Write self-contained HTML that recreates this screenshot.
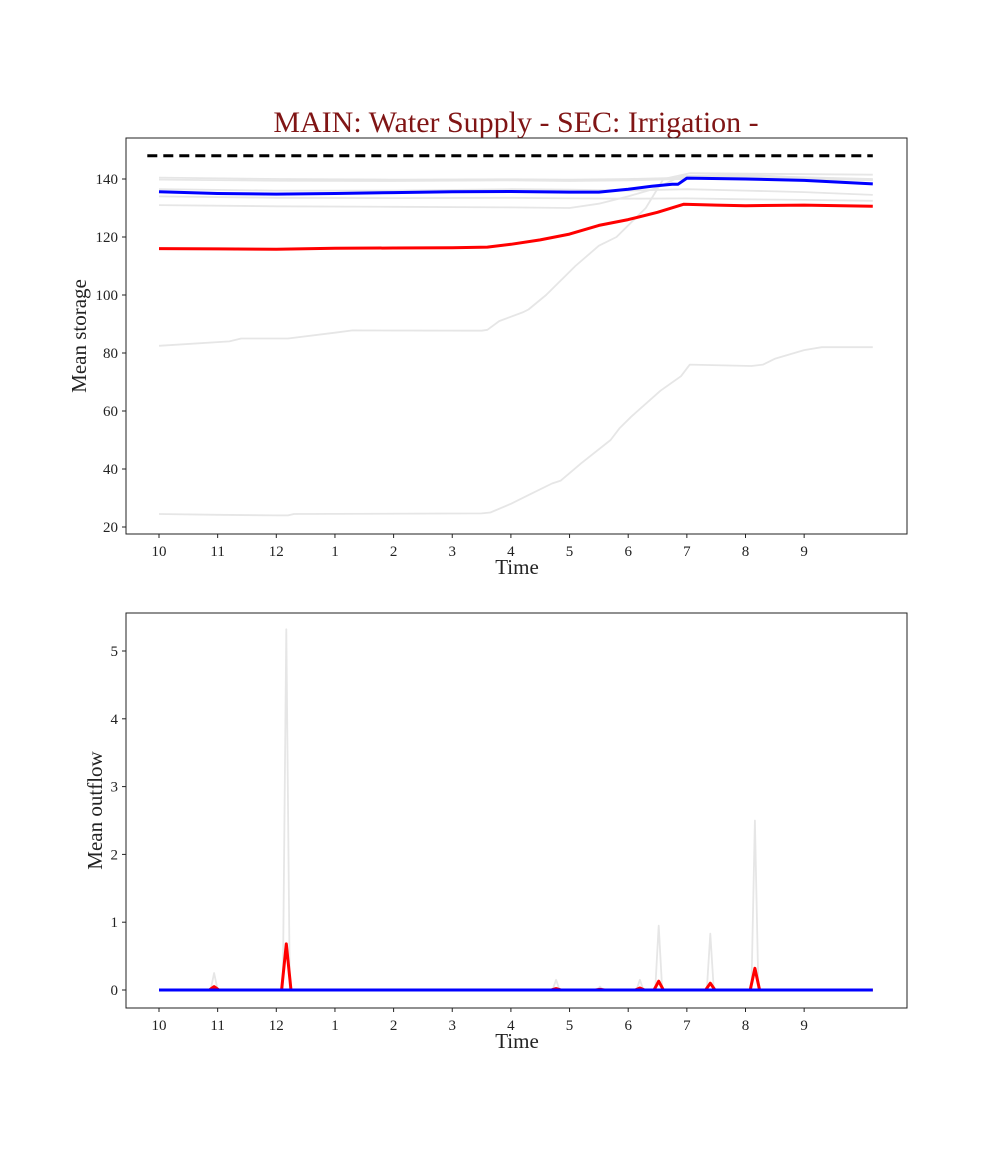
<!DOCTYPE html>
<html><head><meta charset="utf-8"><style>
body{margin:0;background:#fff;width:1008px;height:1152px;overflow:hidden}
svg text{font-family:"Liberation Serif",serif;fill:#222}
</style></head><body>
<svg id="chart" width="1008" height="1152" xmlns="http://www.w3.org/2000/svg">
<text x="516" y="132" text-anchor="middle" font-size="30" style="fill:#801515">MAIN: Water Supply - SEC: Irrigation -</text>
<g id="topPanel"></g>
<g id="botPanel"></g>
</svg>
<script>
const monthLabels = ["10","11","12","1","2","3","4","5","6","7","8","9"];
const storageTicks = [20,40,60,80,100,120,140];
const outflowTicks = [0,1,2,3,4,5];
const capacity = 148;
const redT = [0,1,2,3,4,5,5.6,6,6.5,7,7.5,8,8.5,8.95,9.5,10,11,12.17];
const redV = [116,115.9,115.8,116.1,116.2,116.3,116.5,117.5,119,121,124,126,128.5,131.3,131,130.8,131,130.6];
const blueT = [0,1,2,3,4,5,6,7,7.5,8,8.4,8.75,8.85,9.0,10,11,11.5,12.17];
const blueV = [135.6,135,134.8,135,135.3,135.6,135.7,135.5,135.5,136.5,137.5,138.2,138.2,140.3,140,139.5,139,138.3];
const gray1T = [0,2,4,6,7,8,9,10,11,12.17];
const gray1V = [140.5,140,139.8,139.9,139.8,140,140.5,141,140.6,140];
const gray2T = [0,2,4,6,7,8,9,10,11,12.17];
const gray2V = [139.8,139.4,139.3,139.5,139.3,139.5,140,140.5,140,139.6];
const gray3T = [0,2,4,6,7,7.5,8,8.5,8.9,10,11,12.17];
const gray3V = [131,130.6,130.4,130.2,130,131.5,134,137,141,141.5,140.5,139.8];
const gray4T = [0,2,4,6,7,8,9,10,11,12.17];
const gray4V = [134,133.5,133.4,133.5,133.3,133.2,133.3,133,132.8,132.5];
const gray5T = [0,2,4,6,7,8,9,10,11,12.17];
const gray5V = [136.5,136,136,136.5,136.3,136,136.5,136,135.5,134.5];
const gray6T = [0,1.2,1.4,2.2,3,3.3,5.5,5.6,5.8,6.2,6.3,6.6,7.1,7.5,7.8,8.3,8.6,9.05,12.17];
const gray6V = [82.5,84,85,85,87,87.8,87.7,88,91,94,95,100,110,117,120,130,140,142,141.5];
const gray7T = [0,1,2,2.2,2.3,5.5,5.65,6,6.3,6.7,6.85,7.2,7.7,7.85,8.05,8.55,8.9,9.05,10.1,10.3,10.5,11,11.3,12.17];
const gray7V = [24.5,24.2,24,24,24.5,24.7,25,28,31,35,36,42,50,54,58,67,72,76,75.5,76,78,81,82,82];
const spikeT = [0.94,2.17,6.77,7.52,8.2,8.52,9.4,10.16];
const spikeGray = [0.25,5.32,0.15,0.05,0.15,0.95,0.83,2.5];
const spikeRed = [0.05,0.68,0.02,0.01,0.03,0.13,0.1,0.32];
const endT = 12.17;

const NS="http://www.w3.org/2000/svg";
function mk(parent,tag,attrs){const e=document.createElementNS(NS,tag);for(const k in attrs)e.setAttribute(k,attrs[k]);parent.appendChild(e);return e;}
const X0=126,X1=907;
const xs=m=>159+m*58.65;
function panel(g,t0,b0,y,ticks,ylabel,fmt){
  mk(g,"rect",{x:X0,y:t0,width:X1-X0,height:b0-t0,fill:"none",stroke:"#222","stroke-width":1});
  ticks.forEach(t=>{const yy=y(t);
    const l=mk(g,"line",{x1:X0-4,x2:X0,y1:yy,y2:yy,stroke:"#222"});
    
    
    const tx=mk(g,"text",{x:X0-8,y:yy+5,"text-anchor":"end","font-size":15});tx.textContent=fmt(t);
    
    
  });
  monthLabels.forEach((lab,i)=>{const xx=xs(i);
    const l=mk(g,"line",{x1:xx,x2:xx,y1:b0,y2:b0+4,stroke:"#222"});
    
    
    const tx=mk(g,"text",{x:xx,y:b0+22,"text-anchor":"middle","font-size":15});tx.textContent=lab;
    
    
  });
  const xl=mk(g,"text",{x:517,y:b0+40,"text-anchor":"middle","font-size":21});xl.textContent="Time";
  
  
  const cy=(t0+b0)/2;
  const yl=mk(g,"text",{x:0,y:0,"text-anchor":"middle","font-size":21,transform:`translate(${ylabel[1]},${cy}) rotate(-90)`});yl.textContent=ylabel[0];
  
  
}
function line(g,T,V,y,color,w,name,dash){
  const d=T.map((t,i)=>(i?"L":"M")+xs(t).toFixed(1)+","+y(V[i]).toFixed(1)).join("");
  const p=mk(g,"path",{d:d,fill:"none",stroke:color,"stroke-width":w,"stroke-linejoin":"round"});
  if(dash)p.setAttribute("stroke-dasharray",dash);
  
  
}
const topG=document.getElementById("topPanel");
const ys=v=>179+(140-v)*2.9;
panel(topG,138,534,ys,storageTicks,["Mean storage",86],t=>String(t));
[[gray1T,gray1V],[gray2T,gray2V],[gray3T,gray3V],[gray4T,gray4V],[gray5T,gray5V],[gray6T,gray6V],[gray7T,gray7V]].forEach((s,i)=>line(topG,s[0],s[1],ys,"#e6e6e6",1.8,"ensemble-storage-"+(i+1)));
line(topG,[-0.2,endT],[capacity,capacity],ys,"#000",3,"capacity-line","10,6");
line(topG,redT,redV,ys,"#f00",3,"red-storage-line");
line(topG,blueT,blueV,ys,"#00f",3,"blue-storage-line");
const botG=document.getElementById("botPanel");
const yb=v=>990-v*67.8;
panel(botG,613,1008,yb,outflowTicks,["Mean outflow",102],t=>String(t));
function spikes(vals,hw){const T=[0],V=[0];spikeT.forEach((t,i)=>{T.push(t-hw,t,t+hw);V.push(0,vals[i],0);});T.push(endT);V.push(0);return [T,V];}
let gS=spikes(spikeGray,0.06);line(botG,gS[0],gS[1],yb,"#e6e6e6",1.8,"ensemble-outflow");
let rS=spikes(spikeRed,0.08);line(botG,rS[0],rS[1],yb,"#f00",3,"red-outflow-line");
line(botG,[0,endT],[0,0],yb,"#00f",3,"blue-outflow-line");
</script>
</body></html>
